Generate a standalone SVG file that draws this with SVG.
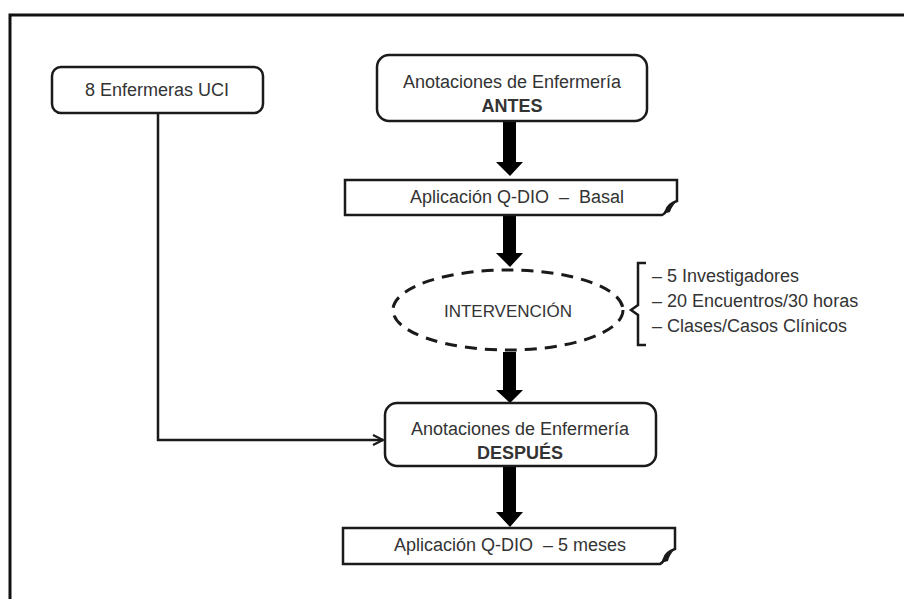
<svg xmlns="http://www.w3.org/2000/svg" width="904" height="599" viewBox="0 0 904 599">
<style>
.box{fill:#fff;stroke:#1a1a1a;stroke-width:2.5}
.t{font-family:"Liberation Sans",Arial,sans-serif;font-size:18px;fill:#333;text-anchor:middle}
.b{font-weight:bold}
.l{text-anchor:start}
.arr{fill:#000}
.conn{fill:none;stroke:#1a1a1a;stroke-width:2.5}
</style>
<defs>
<marker id="open" viewBox="0 0 12 12" refX="11" refY="6" markerWidth="12" markerHeight="12" markerUnits="userSpaceOnUse" orient="auto">
<path d="M1,1 L11,6 L1,11" fill="none" stroke="#1a1a1a" stroke-width="2.2"/>
</marker>
</defs>
<rect width="904" height="599" fill="#fff"/>
<rect x="10" y="15" width="1000" height="700" fill="none" stroke="#111" stroke-width="3"/>

<g id="connectors">
<path class="conn" d="M158,113 V440 H383" marker-end="url(#open)"/>
<path id="a1" class="arr" d="M503,121 H516 V162 H523 L510,176 L496,162 H503 Z"/>
<path id="a2" class="arr" d="M503,215 H516 V253 H523 L510,267 L496,253 H503 Z"/>
<path id="a3" class="arr" d="M503,352 H516 V390 H523 L510,403 L496,390 H503 Z"/>
<path id="a4" class="arr" d="M503,466 H516 V512 H523 L510,527 L496,512 H503 Z"/>
</g>

<g id="n_enfermeras">
<rect class="box" x="52" y="67" width="211" height="46" rx="9"/>
<text class="t" x="157" y="96">8 Enfermeras UCI</text>
</g>

<g id="n_antes">
<rect class="box" x="377" y="55" width="270" height="66" rx="12"/>
<text class="t" x="512" y="88">Anotaciones de Enfermería</text>
<text class="t b" x="512" y="112">ANTES</text>
</g>

<g id="n_basal">
<path class="box" d="M345,180 H677 V201 Q668,204 666,211 Q665,214 662,215 H345 Z"/>
<path d="M663,214 Q667,206 676,202 Q671,208 670,212 Z" fill="#1a1a1a"/>
<text class="t" x="517" y="203" xml:space="preserve">Aplicación Q-DIO  –  Basal</text>
</g>

<g id="n_intervencion">
<ellipse cx="508" cy="310" rx="115" ry="40" fill="#fff" stroke="#1a1a1a" stroke-width="3" stroke-dasharray="12,8"/>
<text class="t" x="508" y="317" style="font-size:17px">INTERVENCIÓN</text>
</g>

<g id="n_bracket">
<path d="M646,263 H638 V305 L631,310 L638,315 V345 H646" fill="none" stroke="#1a1a1a" stroke-width="2.5"/>
<text class="t l" x="652" y="282">– 5 Investigadores</text>
<text class="t l" x="652" y="307">– 20 Encuentros/30 horas</text>
<text class="t l" x="652" y="332">– Clases/Casos Clínicos</text>
</g>

<g id="n_despues">
<rect class="box" x="385" y="403" width="271" height="63" rx="12"/>
<text class="t" x="520" y="435">Anotaciones de Enfermería</text>
<text class="t b" x="520" y="459">DESPUÉS</text>
</g>

<g id="n_meses">
<path class="box" d="M343,528 H675 V549 Q666,552 664,559 Q663,563 660,564 H343 Z"/>
<path d="M661,563 Q665,554 674,550 Q669,556 668,561 Z" fill="#1a1a1a"/>
<text class="t" x="510" y="551" xml:space="preserve">Aplicación Q-DIO  – 5 meses</text>
</g>
</svg>
